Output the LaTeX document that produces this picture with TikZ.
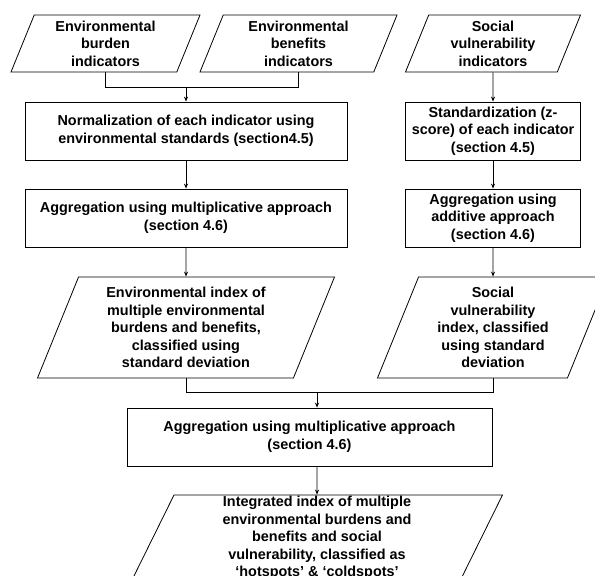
\documentclass[tikz,border=0pt]{standalone}
\usepackage{fontspec}
\setmainfont{Liberation Sans}
\usetikzlibrary{shapes.geometric,arrows.meta}

\begin{document}
\begin{tikzpicture}[x=1pt, y=-1pt, line width=0.8pt,
    >={Stealth[length=5pt,width=4pt]},
    every node/.style={font=\fontsize{14.4}{17.5}\selectfont\bfseries},
    inbox/.style={trapezium, trapezium left angle=63, trapezium right angle=117,
        trapezium stretches body, draw, align=center, inner sep=0pt},
    procbox/.style={rectangle, draw, align=center, inner sep=0pt, minimum height=58pt}]
    \path[use as bounding box, clip] (0,0) rectangle (595,576);

    \node[inbox, minimum width=189pt, minimum height=57pt] (ind1) at (105.5,43.5) {Environmental\\burden\\indicators};
    \node[inbox, minimum width=197pt, minimum height=57pt] (ind2) at (298.5,43.5) {Environmental\\benefits\\indicators};
    \node[inbox, minimum width=175pt, minimum height=57pt] (ind3) at (493,43.5) {Social\\vulnerability\\indicators};

    \node[procbox, minimum width=322pt] (norm) at (186,131) {Normalization of each indicator using\\environmental standards (section4.5)};
    \node[procbox, minimum width=175pt] (std) at (493,131) {Standardization (z-\\score) of each indicator\\(section 4.5)};
    \node[procbox, minimum width=322pt] (aggm) at (186,218) {Aggregation using multiplicative approach\\(section 4.6)};
    \node[procbox, minimum width=175pt] (agga) at (493,218) {Aggregation using\\additive approach\\(section 4.6)};

    \node[inbox, minimum width=297pt, minimum height=101pt] (envix) at (186,327.5) {Environmental index of\\multiple environmental\\burdens and benefits,\\classified using\\standard deviation};
    \node[inbox, minimum width=231pt, minimum height=101pt] (socix) at (493,327.5) {Social\\vulnerability\\index, classified\\using standard\\deviation};

    \node[procbox, minimum width=365pt] (aggall) at (309.5,437) {Aggregation using multiplicative approach\\(section 4.6)};
    \node[inbox, minimum width=371pt, minimum height=86pt] (result) at (317,538) {Integrated index of multiple\\environmental burdens and\\benefits and social\\vulnerability, classified as\\`hotspots' \& `coldspots'};

    \coordinate (envjoin) at (186,87);
    \coordinate (alljoin) at (317,392);

    \draw (ind1.south) |- (ind2.south |- envjoin) -- (ind2.south);
    \draw[->] (envjoin) -- (norm.north);
    \draw[->] (ind3.south) -- (std.north);
    \draw[->] (norm.south) -- (aggm.north);
    \draw[->] (std.south) -- (agga.north);
    \draw[->] (aggm.south) -- (envix.north);
    \draw[->] (agga.south) -- (socix.north);
    \draw (envix.south) |- (socix.south |- alljoin) -- (socix.south);
    \draw[->] (alljoin) -- (alljoin |- aggall.north);
    \draw[->] (alljoin |- aggall.south) -- (result.north);
\end{tikzpicture}
\end{document}
